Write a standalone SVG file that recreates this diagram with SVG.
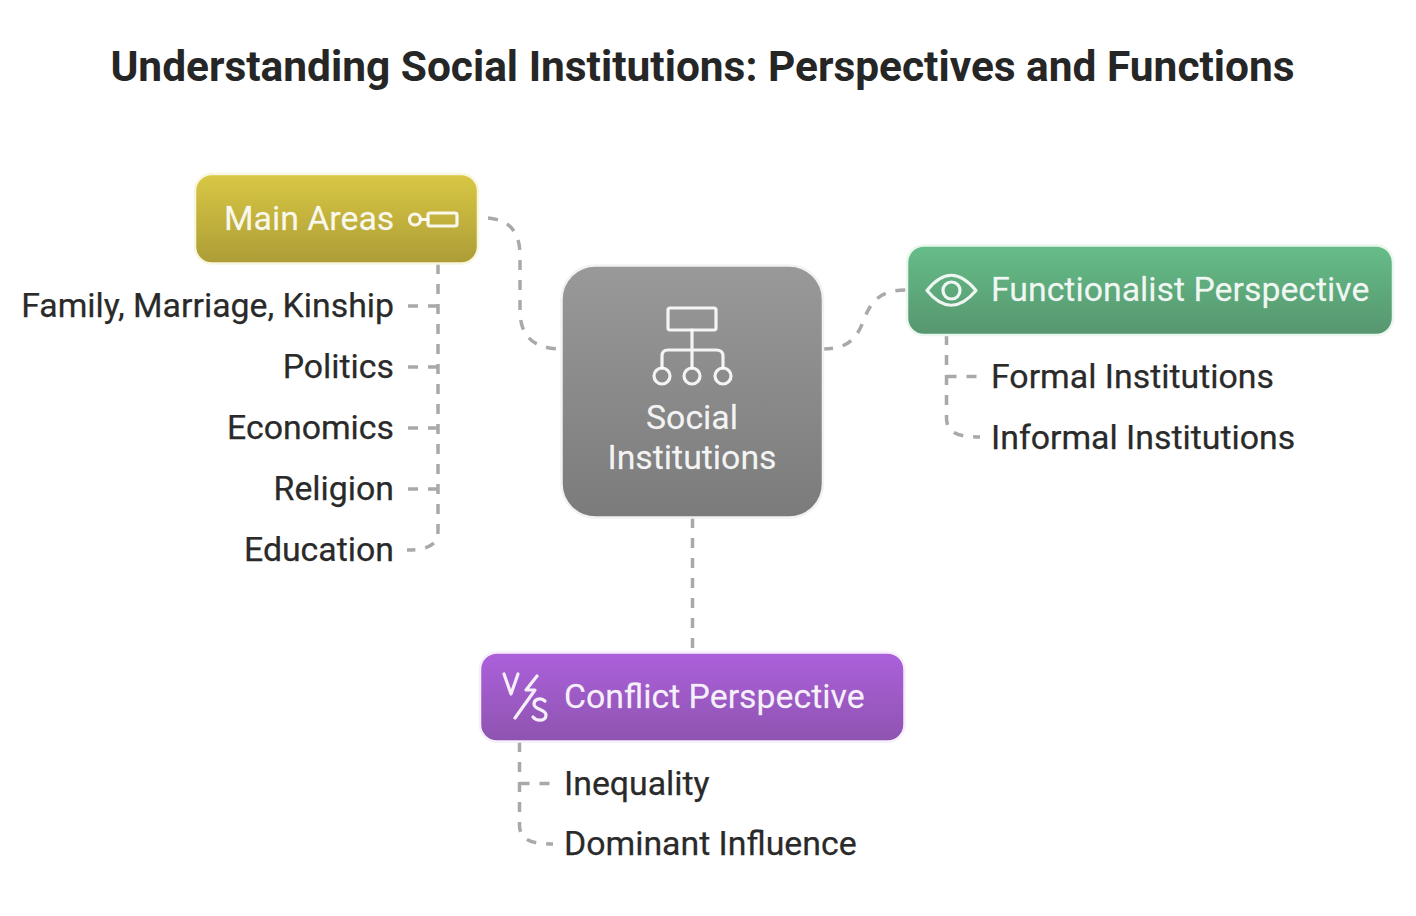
<svg xmlns="http://www.w3.org/2000/svg" width="1416" height="916" viewBox="0 0 1416 916">
<style>
text{font-family:Roboto,"Liberation Sans",sans-serif}
.title{font-size:42.43px;font-weight:700;fill:#262626}
.lb{font-size:33.85px;fill:#2a2a2a;stroke:#2a2a2a;stroke-width:.25}
.wt{font-size:33.85px;fill:#fff;fill-opacity:.92;stroke:#fff;stroke-opacity:.5;stroke-width:.3}
.c{fill:none;stroke:#a9a9a9;stroke-width:3.5;stroke-dasharray:10 10}
.ic{fill:none;stroke:#fff;stroke-opacity:.9;stroke-width:3.2;stroke-linecap:round;stroke-linejoin:round}
.bd{stroke-width:2.500}
</style>
<defs>
<linearGradient id="gy" x1="0" y1="0" x2="0" y2="1"><stop offset="0" stop-color="#d9c844"/><stop offset="1" stop-color="#ac9c36"/></linearGradient>
<linearGradient id="gg" x1="0" y1="0" x2="0" y2="1"><stop offset="0" stop-color="#999"/><stop offset="1" stop-color="#7b7b7b"/></linearGradient>
<linearGradient id="gn" x1="0" y1="0" x2="0" y2="1"><stop offset="0" stop-color="#66bd88"/><stop offset="1" stop-color="#56966f"/></linearGradient>
<linearGradient id="gp" x1="0" y1="0" x2="0" y2="1"><stop offset="0" stop-color="#ac60db"/><stop offset="1" stop-color="#8e54b0"/></linearGradient>
</defs>
<rect width="1416" height="916" fill="#fff"/>
<text class="title" x="702.500" y="81" text-anchor="middle" id="title">Understanding Social Institutions: Perspectives and Functions</text>
<g id="connectors">
<path class="c" d="M488 218C510 220 520 232 520 256V310C520 335 532 349 562 349"/>
<path class="c" d="M823 349C846 349 856 340 863 322C870 303 878 290 907 290"/>
<path class="c" d="M692.500 518V652"/>
<path class="c" d="M438 264V530C438 544 430 550 407 550"/>
<path class="c" d="M438 306H407M438 367H407M438 428H407M438 489H407"/>
<path class="c" d="M946.500 335V418C946.500 431 955 437 980 437"/>
<path class="c" d="M946.500 376.500H977"/>
<path class="c" d="M519.500 742V825C519.500 838 528 844 553 844"/>
<path class="c" d="M519.500 783.500H550"/>
</g>
<g id="node-main-areas">
<rect x="195" y="174" width="283" height="89.500" rx="17" fill="url(#gy)" stroke="#f9f6e0" class="bd"/>
<text class="wt" x="224" y="230">Main Areas</text>
<circle class="ic" cx="415" cy="219.500" r="5.500"/><path class="ic" d="M420.500 219.500H428"/><rect class="ic" x="428" y="213" width="29" height="13" rx="2"/>
</g>
<g id="node-social-institutions">
<rect x="561.500" y="265.500" width="261.500" height="252" rx="34" fill="url(#gg)" stroke="#f2f2f2" class="bd"/>
<g>
<rect class="ic" x="668" y="308" width="48" height="22" rx="2"/>
<path class="ic" d="M692 330V368M662 368V356Q662 350 668 350H716Q723 350 723 356V368"/>
<circle class="ic" cx="662" cy="376" r="8"/><circle class="ic" cx="692" cy="376" r="8"/><circle class="ic" cx="723" cy="376" r="8"/>
</g>
<text class="wt" x="692" y="429" text-anchor="middle">Social</text>
<text class="wt" x="692" y="469" text-anchor="middle">Institutions</text>
</g>
<g id="node-functionalist">
<rect x="907" y="245.500" width="486" height="89.500" rx="17" fill="url(#gn)" stroke="#eaf6ee" class="bd"/>
<path class="ic" d="M927 290.500Q951 260 976 290.500Q951 320 927 290.500Z"/><circle class="ic" cx="951.500" cy="290.500" r="8.500"/>
<text class="wt" x="991" y="301">Functionalist Perspective</text>
</g>
<g id="node-conflict">
<rect x="480" y="652.500" width="424.500" height="89" rx="17" fill="url(#gp)" stroke="#f7eefc" class="bd"/>
<path class="ic" d="M504 674L511 694L518 674M537 676L526 690H535L515 718"/>
<path class="ic" d="M545 701C541 697 534 699 534 704C534 710 546 709 546 715C546 721 537 722 533 717"/>
<text class="wt" x="564" y="708">Conflict Perspective</text>
</g>
<g id="node-family"><text class="lb" x="394" y="317" text-anchor="end">Family, Marriage, Kinship</text></g>
<g id="node-politics"><text class="lb" x="394" y="378" text-anchor="end">Politics</text></g>
<g id="node-economics"><text class="lb" x="394" y="439" text-anchor="end">Economics</text></g>
<g id="node-religion"><text class="lb" x="394" y="500" text-anchor="end">Religion</text></g>
<g id="node-education"><text class="lb" x="394" y="561" text-anchor="end">Education</text></g>
<g id="node-formal"><text class="lb" x="991" y="388">Formal Institutions</text></g>
<g id="node-informal"><text class="lb" x="991" y="449">Informal Institutions</text></g>
<g id="node-inequality"><text class="lb" x="564" y="795">Inequality</text></g>
<g id="node-dominant"><text class="lb" x="564" y="855">Dominant Influence</text></g>
</svg>
